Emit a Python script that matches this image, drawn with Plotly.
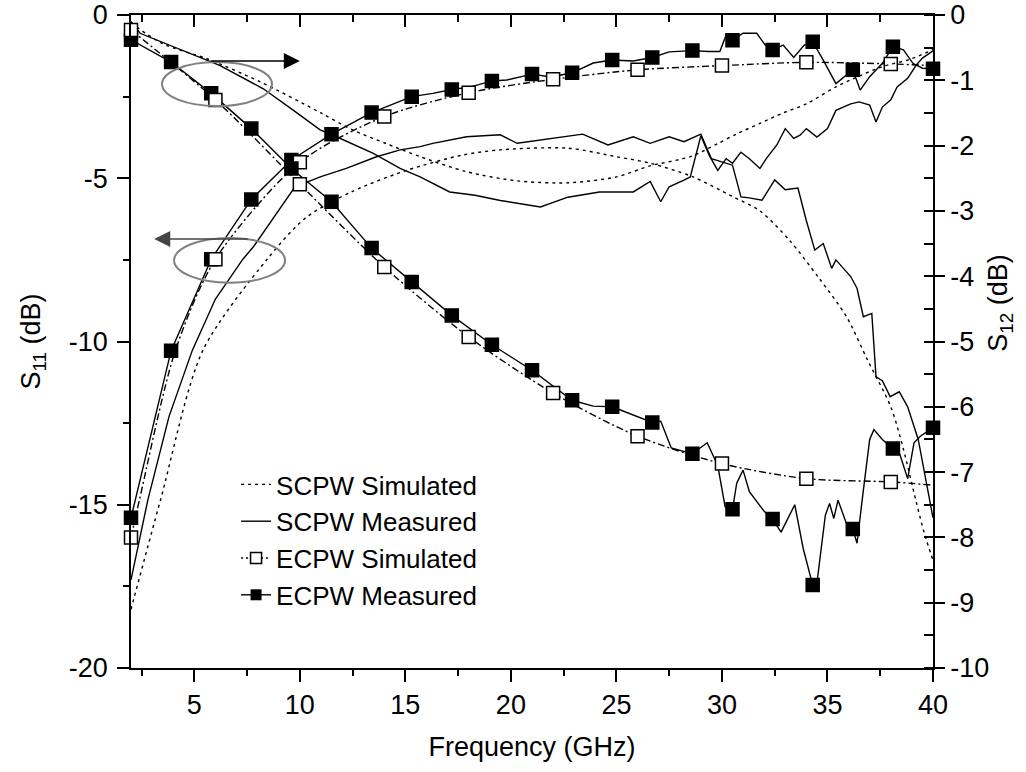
import plotly.graph_objects as go

# ---------------- axes ticks ----------------
FREQ_TICKS = [5, 10, 15, 20, 25, 30, 35, 40]
FREQ_TICK_TEXT = ["5", "10", "15", "20", "25", "30", "35", "40"]
S11_TICKS = [0, -5, -10, -15, -20]
S11_TICK_TEXT = ["0", "-5", "-10", "-15", "-20"]
S12_TICKS = [0, -1, -2, -3, -4, -5, -6, -7, -8, -9, -10]
S12_TICK_TEXT = ["0", "-1", "-2", "-3", "-4", "-5", "-6", "-7", "-8", "-9", "-10"]

# ---------------- S11 (left axis, dB) ----------------
SCPW_SIM_S11_X = [2.0, 3.4, 5.4, 8.45, 10.3, 12.5, 15.1, 17.7, 19.5, 22.7, 25.0, 26.6, 28.6,
                  30.5, 31.8, 33.2, 34.6, 35.9, 36.9, 38.0, 38.6, 39.2, 39.6, 40.0]
SCPW_SIM_S11_Y = [-18.2, -14.85, -10.28, -7.48, -6.2, -5.4, -4.75, -4.29, -4.13, -4.08, -4.34, -4.54, -4.95,
                  -5.56, -6.0, -6.9, -8.06, -9.24, -10.57, -12.0, -13.3, -14.9, -15.9, -16.7]
SCPW_MEAS_S11_X = [2.0, 2.8, 3.8, 4.9, 6.0, 7.3, 7.8, 9.77, 11.0, 12.2, 13.6, 14.75, 15.7, 16.3, 17.9,
                   19.5, 20.3, 21.9, 23.4, 24.6, 25.8, 26.6, 27.5, 28.2, 29.0, 29.5, 30.0, 30.5, 30.9,
                   31.3, 31.9, 32.5, 33.0, 33.6, 34.0, 34.4, 34.8, 35.2, 35.4, 36.1, 36.4, 36.7, 37.1,
                   37.3, 37.6, 37.97, 38.4, 38.8, 39.3, 39.8, 40.0]
SCPW_MEAS_S11_Y = [-17.3, -14.85, -12.3, -10.28, -8.7, -7.48, -7.1, -5.26, -4.95, -4.7, -4.35, -4.13, -4.03,
                   -3.93, -3.73, -3.67, -3.93, -3.78, -3.65, -3.98, -3.73, -3.93, -3.73, -3.88, -3.65,
                   -4.4, -4.5, -4.6, -5.57, -5.6, -5.67, -5.05, -5.35, -5.3, -6.3, -7.2, -7.0, -7.76,
                   -7.5, -8.01, -8.37, -9.24, -9.14, -11.08, -11.2, -11.69, -11.54, -12.0, -13.0,
                   -14.65, -15.4]
ECPW_SIM_S11_MX = [2, 6, 10, 14, 18, 22, 26, 30, 34, 38]
ECPW_SIM_S11_MY = [-16.0, -7.48, -4.51, -3.11, -2.38, -1.97, -1.68, -1.55, -1.45, -1.5]
ECPW_SIM_S11_EX = [2.4, 4.1, 40.0]
ECPW_SIM_S11_EY = [-14.85, -10.28, -1.55]
ECPW_MEAS_S11_MX = [2.0, 3.9, 5.8, 7.7, 9.6, 11.5, 13.4, 15.3, 17.2, 19.1, 21.0, 22.9, 24.8, 26.7,
                    28.6, 30.5, 32.4, 34.3, 36.2, 38.1, 40.0]
ECPW_MEAS_S11_MY = [-15.4, -10.28, -7.48, -5.65, -4.44, -3.65, -2.99, -2.5, -2.28, -2.02, -1.81, -1.77,
                    -1.38, -1.30, -1.09, -0.77, -1.07, -0.82, -1.68, -0.97, -1.65]
ECPW_MEAS_S11_EX = [16.3, 18.1, 19.8, 21.9, 23.9, 25.8, 27.5, 29.35, 29.9, 30.2, 31.0, 31.65, 32.05,
                    32.9, 33.4, 33.9, 34.8, 35.4, 36.55, 37.0, 37.6, 38.6, 39.05, 39.5]
ECPW_MEAS_S11_EY = [-2.4, -2.2, -1.99, -1.9, -1.47, -1.41, -1.13, -1.12, -1.12, -0.61, -0.56, -0.56, -0.92,
                    -0.92, -1.3, -0.92, -1.38, -2.1, -2.3, -1.89, -1.48, -1.07, -1.48, -1.63]

# ---------------- S12 (right axis, dB) ----------------
SCPW_SIM_S12_X = [2.0, 3.5, 5.6, 8.1, 11.0, 12.5, 14.1, 15.7, 17.9, 20.3, 22.7, 25.0, 26.6, 28.5,
                  29.8, 30.7, 31.8, 32.9, 34.0, 35.4, 36.4, 37.6, 38.9, 40.0]
SCPW_SIM_S12_Y = [-0.12, -0.44, -0.67, -1.02, -1.5, -1.76, -1.97, -2.17, -2.4, -2.54, -2.57, -2.48, -2.31,
                  -2.17, -1.97, -1.82, -1.66, -1.5, -1.36, -1.1, -0.95, -0.79, -0.68, -0.53]
SCPW_MEAS_S12_X = [2.0, 2.43, 6.2, 8.27, 9.7, 10.96, 11.5, 13.48, 14.75, 15.7, 17.1, 18.3, 19.5, 21.4,
                   22.7, 24.2, 25.8, 26.6, 27.1, 27.5, 28.2, 28.5, 29.0, 29.4, 29.8, 30.2, 30.5, 30.9,
                   31.3, 31.8, 32.1, 32.6, 33.0, 33.4, 33.7, 34.0, 34.5, 35.0, 35.4, 36.1, 36.5, 37.0,
                   37.3, 37.6, 38.0, 38.3, 38.8, 39.2, 39.5, 40.0]
SCPW_MEAS_S12_Y = [-0.1, -0.28, -0.77, -1.13, -1.46, -1.76, -1.83, -2.12, -2.35, -2.48, -2.71, -2.76, -2.84,
                   -2.94, -2.79, -2.71, -2.71, -2.55, -2.86, -2.63, -2.53, -2.48, -1.85, -2.15, -2.38,
                   -2.2, -2.27, -2.1, -2.2, -2.35, -2.2, -1.99, -1.74, -1.89, -1.84, -1.74, -1.87, -1.74,
                   -1.46, -1.36, -1.33, -1.38, -1.64, -1.41, -1.3, -1.1, -0.97, -0.77, -0.66, -0.55]
ECPW_SIM_S12_MX = [2, 6, 10, 14, 18, 22, 26, 30, 34, 38]
ECPW_SIM_S12_MY = [-0.23, -1.3, -2.59, -3.86, -4.93, -5.79, -6.45, -6.87, -7.1, -7.15]
ECPW_SIM_S12_EX = [40.0]
ECPW_SIM_S12_EY = [-7.2]
ECPW_MEAS_S12_MX = [2.0, 3.9, 5.8, 7.7, 9.6, 11.5, 13.4, 15.3, 17.2, 19.1, 21.0, 22.9, 24.8, 26.7,
                    28.6, 30.5, 32.4, 34.3, 36.2, 38.1, 40.0]
ECPW_MEAS_S12_MY = [-0.38, -0.72, -1.2, -1.74, -2.35, -2.86, -3.57, -4.09, -4.6, -5.05, -5.44, -5.9,
                    -6.0, -6.24, -6.72, -7.57, -7.72, -8.73, -7.87, -6.64, -6.32]
ECPW_MEAS_S12_EX = [23.9, 27.1, 27.6, 29.3, 29.8, 30.15, 30.7, 31.0, 31.3, 32.0, 32.8, 33.45, 33.85,
                    34.5, 34.9, 35.1, 35.3, 35.5, 35.9, 36.4, 36.7, 37.0, 37.2, 37.6, 38.4, 38.8,
                    39.1, 39.4]
ECPW_MEAS_S12_EY = [-5.99, -6.22, -6.63, -6.55, -6.9, -7.53, -7.17, -6.97, -7.3, -7.6, -7.92, -7.5, -8.17,
                    -8.7, -7.66, -7.48, -7.71, -7.43, -7.79, -8.09, -7.28, -6.5, -6.35, -6.5, -6.7,
                    -7.1, -6.55, -6.45]

LEGEND_NAMES = ["SCPW Simulated", "SCPW Measured", "ECPW Simulated", "ECPW Measured"]


def merged(mx, my, ex, ey):
    pts = sorted(zip(list(mx) + list(ex), list(my) + list(ey)))
    return [p[0] for p in pts], [p[1] for p in pts]


BLACK = "black"
LW = 1.4
DOT = "3px,4px"
DASHDOT = "7px,3px,2px,3px"

fig = go.Figure()


def add_line(x, y, yaxis, dash, shape="linear"):
    fig.add_trace(go.Scatter(x=x, y=y, yaxis=yaxis, mode="lines", showlegend=False,
                             hoverinfo="skip",
                             line=dict(color=BLACK, width=LW, dash=dash, shape=shape, smoothing=0.8)))


def add_markers(x, y, yaxis, filled):
    fig.add_trace(go.Scatter(x=x, y=y, yaxis=yaxis, mode="markers", showlegend=False,
                             hoverinfo="skip", cliponaxis=False,
                             marker=dict(symbol="square", size=13,
                                         color=BLACK if filled else "white",
                                         line=dict(color=BLACK, width=1.5))))


add_line(SCPW_SIM_S11_X, SCPW_SIM_S11_Y, "y", DOT, "spline")
add_line(SCPW_SIM_S12_X, SCPW_SIM_S12_Y, "y2", DOT, "spline")
add_line(SCPW_MEAS_S11_X, SCPW_MEAS_S11_Y, "y", "solid")
add_line(SCPW_MEAS_S12_X, SCPW_MEAS_S12_Y, "y2", "solid")

x, y = merged(ECPW_MEAS_S11_MX, ECPW_MEAS_S11_MY, ECPW_MEAS_S11_EX, ECPW_MEAS_S11_EY)
add_line(x, y, "y", "solid")
add_markers(ECPW_MEAS_S11_MX, ECPW_MEAS_S11_MY, "y", True)
x, y = merged(ECPW_MEAS_S12_MX, ECPW_MEAS_S12_MY, ECPW_MEAS_S12_EX, ECPW_MEAS_S12_EY)
add_line(x, y, "y2", "solid")
add_markers(ECPW_MEAS_S12_MX, ECPW_MEAS_S12_MY, "y2", True)

x, y = merged(ECPW_SIM_S11_MX, ECPW_SIM_S11_MY, ECPW_SIM_S11_EX, ECPW_SIM_S11_EY)
add_line(x, y, "y", DASHDOT, "spline")
add_markers(ECPW_SIM_S11_MX, ECPW_SIM_S11_MY, "y", False)
x, y = merged(ECPW_SIM_S12_MX, ECPW_SIM_S12_MY, ECPW_SIM_S12_EX, ECPW_SIM_S12_EY)
add_line(x, y, "y2", DASHDOT, "spline")
add_markers(ECPW_SIM_S12_MX, ECPW_SIM_S12_MY, "y2", False)

legend_styles = [
    dict(mode="lines", line=dict(color=BLACK, width=LW, dash=DOT)),
    dict(mode="lines", line=dict(color=BLACK, width=LW)),
    dict(mode="lines+markers", line=dict(color=BLACK, width=LW, dash="2px,3px"),
         marker=dict(symbol="square", size=11, color="white", line=dict(color=BLACK, width=1.5))),
    dict(mode="lines+markers", line=dict(color=BLACK, width=LW),
         marker=dict(symbol="square", size=11, color=BLACK)),
]
for i, (name, st) in enumerate(zip(LEGEND_NAMES, legend_styles)):
    fig.add_trace(go.Scatter(x=[None], y=[None], name=name, legendgroup=f"g{i}",
                             showlegend=True, **st))

fig.add_trace(go.Scatter(x=[None], y=[None], xaxis="x2", showlegend=False, hoverinfo="skip"))

FONT = "Liberation Sans, Arial, sans-serif"
FS = 27
axis_common = dict(showgrid=False, zeroline=False, showline=True, linecolor=BLACK, linewidth=1.5,
                   tickcolor=BLACK, tickwidth=1.5, automargin=False, ticklabeloverflow="allow")

fig.update_layout(
    width=1026, height=772,
    margin=dict(l=131, r=93, t=15, b=104, autoexpand=False),
    paper_bgcolor="white", plot_bgcolor="white",
    font=dict(family=FONT, size=FS, color=BLACK),
    xaxis=dict(range=[2, 40], tickmode="array", tickvals=FREQ_TICKS, ticktext=FREQ_TICK_TEXT,
               ticks="outside", ticklen=12, ticklabelstandoff=0,
               minor=dict(tickmode="linear", tick0=0, dtick=2.5, ticks="outside", ticklen=6,
                          tickwidth=1.5, tickcolor=BLACK),
               title=dict(text="Frequency (GHz)", standoff=18, font=dict(size=FS)),
               **axis_common),
    xaxis2=dict(range=[2, 40], overlaying="x", side="top", anchor="y", tickmode="linear",
                tick0=0, dtick=5, ticks="inside", ticklen=12, showticklabels=False,
                minor=dict(tickmode="linear", tick0=0, dtick=2.5, ticks="inside", ticklen=7,
                           tickwidth=1.5, tickcolor=BLACK),
                **axis_common),
    yaxis=dict(range=[-20, 0], tickmode="array", tickvals=S11_TICKS, ticktext=S11_TICK_TEXT,
               ticks="outside", ticklen=12, ticklabelstandoff=4,
               minor=dict(tickmode="linear", tick0=0, dtick=2.5, ticks="outside", ticklen=6,
                          tickwidth=1.5, tickcolor=BLACK),
               title=dict(text="S<sub>11</sub> (dB)", standoff=20, font=dict(size=FS)),
               **axis_common),
    yaxis2=dict(range=[-10, 0], overlaying="y", side="right", anchor="x", tickmode="array",
                tickvals=S12_TICKS, ticktext=S12_TICK_TEXT, ticks="outside", ticklen=10,
                ticklabelstandoff=0,
                minor=dict(tickmode="linear", tick0=0, dtick=0.5, ticks="inside", ticklen=9,
                           tickwidth=1.5, tickcolor=BLACK),
                **axis_common),
    legend=dict(x=0.131, y=0.317, xanchor="left", yanchor="top", bgcolor="rgba(0,0,0,0)",
                font=dict(size=26), traceorder="grouped", tracegroupgap=0, itemwidth=30),
    shapes=[
        dict(type="circle", xref="x", yref="y", x0=3.47, x1=8.68, y0=-2.79, y1=-1.44,
             line=dict(color="#808080", width=2)),
        dict(type="circle", xref="x", yref="y", x0=4.04, x1=9.3, y0=-8.2, y1=-6.83,
             line=dict(color="#808080", width=2)),
    ],
    annotations=[
        dict(x=10.0, y=-1.41, ax=5.7, ay=-1.41, xref="x", yref="y", axref="x", ayref="y",
             text="", showarrow=True, arrowhead=2, arrowsize=2, arrowwidth=1.6,
             arrowcolor=BLACK),
        dict(x=3.1, y=-6.86, ax=7.6, ay=-6.86, xref="x", yref="y", axref="x", ayref="y",
             text="", showarrow=True, arrowhead=2, arrowsize=2, arrowwidth=1.6,
             arrowcolor="#444444"),
        dict(text="S<sub>12</sub> (dB)", xref="paper", yref="paper", x=1.084, y=0.56,
             textangle=-90, showarrow=False, font=dict(size=FS), xanchor="center",
             yanchor="middle"),
    ],
)

fig.write_html("out.html")
